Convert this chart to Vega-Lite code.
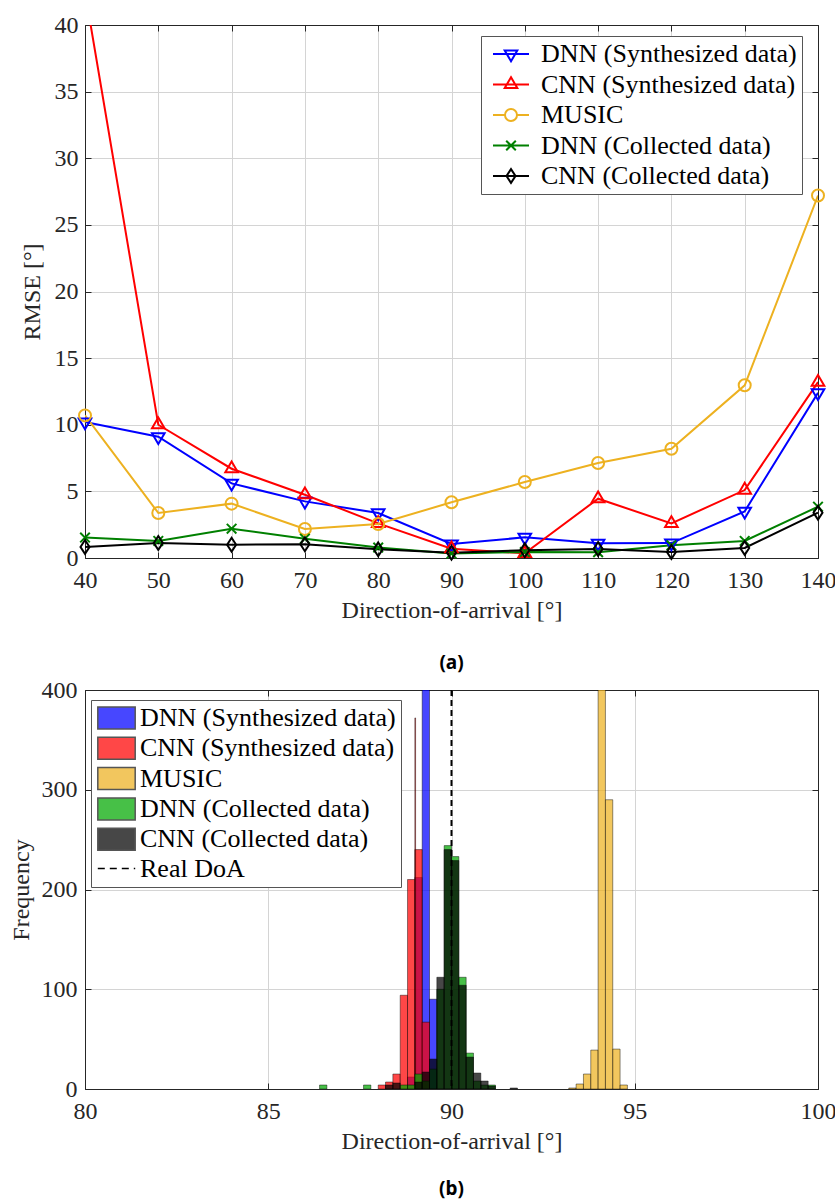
{
  "$schema": "https://vega.github.io/schema/vega-lite/v6.json",
  "padding": {"left": 8, "top": 12, "right": 0, "bottom": 0},
  "background": "#ffffff",
  "spacing": 3,
  "resolve": {
    "scale": {"color": "independent", "fill": "independent", "stroke": "independent", "shape": "independent", "strokeDash": "independent"},
    "legend": {"color": "independent", "fill": "independent", "stroke": "independent", "shape": "independent", "strokeDash": "independent"}
  },
  "datasets": {
    "rmse": [
      {"s": "DNN (Synthesized data)", "x": 40, "r": 10.2},
      {"s": "DNN (Synthesized data)", "x": 50, "r": 9.1},
      {"s": "DNN (Synthesized data)", "x": 60, "r": 5.6},
      {"s": "DNN (Synthesized data)", "x": 70, "r": 4.25},
      {"s": "DNN (Synthesized data)", "x": 80, "r": 3.38},
      {"s": "DNN (Synthesized data)", "x": 90, "r": 1.05},
      {"s": "DNN (Synthesized data)", "x": 100, "r": 1.55},
      {"s": "DNN (Synthesized data)", "x": 110, "r": 1.1},
      {"s": "DNN (Synthesized data)", "x": 120, "r": 1.12},
      {"s": "DNN (Synthesized data)", "x": 130, "r": 3.5},
      {"s": "DNN (Synthesized data)", "x": 140, "r": 12.4},
      {"s": "CNN (Synthesized data)", "x": 40, "r": 42.5},
      {"s": "CNN (Synthesized data)", "x": 50, "r": 10.0},
      {"s": "CNN (Synthesized data)", "x": 60, "r": 6.7},
      {"s": "CNN (Synthesized data)", "x": 70, "r": 4.75},
      {"s": "CNN (Synthesized data)", "x": 80, "r": 2.6},
      {"s": "CNN (Synthesized data)", "x": 90, "r": 0.7},
      {"s": "CNN (Synthesized data)", "x": 100, "r": 0.35},
      {"s": "CNN (Synthesized data)", "x": 110, "r": 4.45},
      {"s": "CNN (Synthesized data)", "x": 120, "r": 2.6},
      {"s": "CNN (Synthesized data)", "x": 130, "r": 5.1},
      {"s": "CNN (Synthesized data)", "x": 140, "r": 13.2},
      {"s": "MUSIC", "x": 40, "r": 10.7},
      {"s": "MUSIC", "x": 50, "r": 3.38},
      {"s": "MUSIC", "x": 60, "r": 4.08},
      {"s": "MUSIC", "x": 70, "r": 2.18},
      {"s": "MUSIC", "x": 80, "r": 2.55},
      {"s": "MUSIC", "x": 90, "r": 4.18},
      {"s": "MUSIC", "x": 100, "r": 5.7},
      {"s": "MUSIC", "x": 110, "r": 7.13},
      {"s": "MUSIC", "x": 120, "r": 8.2},
      {"s": "MUSIC", "x": 130, "r": 12.96},
      {"s": "MUSIC", "x": 140, "r": 27.2},
      {"s": "DNN (Collected data)", "x": 40, "r": 1.53},
      {"s": "DNN (Collected data)", "x": 50, "r": 1.28},
      {"s": "DNN (Collected data)", "x": 60, "r": 2.2},
      {"s": "DNN (Collected data)", "x": 70, "r": 1.45},
      {"s": "DNN (Collected data)", "x": 80, "r": 0.78},
      {"s": "DNN (Collected data)", "x": 90, "r": 0.33},
      {"s": "DNN (Collected data)", "x": 100, "r": 0.45},
      {"s": "DNN (Collected data)", "x": 110, "r": 0.43},
      {"s": "DNN (Collected data)", "x": 120, "r": 0.95},
      {"s": "DNN (Collected data)", "x": 130, "r": 1.28},
      {"s": "DNN (Collected data)", "x": 140, "r": 3.85},
      {"s": "CNN (Collected data)", "x": 40, "r": 0.83},
      {"s": "CNN (Collected data)", "x": 50, "r": 1.13},
      {"s": "CNN (Collected data)", "x": 60, "r": 1.0},
      {"s": "CNN (Collected data)", "x": 70, "r": 1.03},
      {"s": "CNN (Collected data)", "x": 80, "r": 0.65},
      {"s": "CNN (Collected data)", "x": 90, "r": 0.4},
      {"s": "CNN (Collected data)", "x": 100, "r": 0.58},
      {"s": "CNN (Collected data)", "x": 110, "r": 0.68},
      {"s": "CNN (Collected data)", "x": 120, "r": 0.45},
      {"s": "CNN (Collected data)", "x": 130, "r": 0.75},
      {"s": "CNN (Collected data)", "x": 140, "r": 3.4}
    ],
    "hist": [
      {"s": "DNN (Synthesized data)", "a": 88.8, "b": 89.0, "n": 12},
      {"s": "DNN (Synthesized data)", "a": 89.0, "b": 89.2, "n": 212},
      {"s": "DNN (Synthesized data)", "a": 89.2, "b": 89.4, "n": 640},
      {"s": "DNN (Synthesized data)", "a": 89.4, "b": 89.6, "n": 90},
      {"s": "CNN (Synthesized data)", "a": 88.0, "b": 88.2, "n": 4},
      {"s": "CNN (Synthesized data)", "a": 88.2, "b": 88.4, "n": 7},
      {"s": "CNN (Synthesized data)", "a": 88.4, "b": 88.6, "n": 15},
      {"s": "CNN (Synthesized data)", "a": 88.6, "b": 88.8, "n": 94},
      {"s": "CNN (Synthesized data)", "a": 88.8, "b": 89.0, "n": 210},
      {"s": "CNN (Synthesized data)", "a": 89.0, "b": 89.2, "n": 240},
      {"s": "CNN (Synthesized data)", "a": 89.2, "b": 89.4, "n": 67},
      {"s": "CNN (Synthesized data)", "a": 89.0, "b": 89.02, "n": 372},
      {"s": "MUSIC", "a": 93.2, "b": 93.4, "n": 1},
      {"s": "MUSIC", "a": 93.4, "b": 93.6, "n": 5},
      {"s": "MUSIC", "a": 93.6, "b": 93.8, "n": 15},
      {"s": "MUSIC", "a": 93.8, "b": 94.0, "n": 39},
      {"s": "MUSIC", "a": 94.0, "b": 94.2, "n": 610},
      {"s": "MUSIC", "a": 94.2, "b": 94.4, "n": 290},
      {"s": "MUSIC", "a": 94.4, "b": 94.6, "n": 40},
      {"s": "MUSIC", "a": 94.6, "b": 94.8, "n": 4},
      {"s": "DNN (Collected data)", "a": 86.4, "b": 86.6, "n": 4},
      {"s": "DNN (Collected data)", "a": 87.6, "b": 87.8, "n": 4},
      {"s": "DNN (Collected data)", "a": 88.6, "b": 88.8, "n": 4},
      {"s": "DNN (Collected data)", "a": 88.8, "b": 89.0, "n": 4},
      {"s": "DNN (Collected data)", "a": 89.0, "b": 89.2, "n": 15},
      {"s": "DNN (Collected data)", "a": 89.2, "b": 89.4, "n": 8},
      {"s": "DNN (Collected data)", "a": 89.4, "b": 89.6, "n": 20},
      {"s": "DNN (Collected data)", "a": 89.6, "b": 89.8, "n": 100},
      {"s": "DNN (Collected data)", "a": 89.8, "b": 90.0, "n": 244},
      {"s": "DNN (Collected data)", "a": 90.0, "b": 90.2, "n": 233},
      {"s": "DNN (Collected data)", "a": 90.2, "b": 90.4, "n": 112},
      {"s": "DNN (Collected data)", "a": 90.4, "b": 90.6, "n": 36},
      {"s": "DNN (Collected data)", "a": 90.6, "b": 90.8, "n": 8},
      {"s": "DNN (Collected data)", "a": 90.8, "b": 91.0, "n": 4},
      {"s": "DNN (Collected data)", "a": 91.0, "b": 91.2, "n": 4},
      {"s": "CNN (Collected data)", "a": 88.2, "b": 88.4, "n": 4},
      {"s": "CNN (Collected data)", "a": 88.4, "b": 88.6, "n": 6},
      {"s": "CNN (Collected data)", "a": 89.0, "b": 89.2, "n": 7},
      {"s": "CNN (Collected data)", "a": 89.2, "b": 89.4, "n": 17},
      {"s": "CNN (Collected data)", "a": 89.4, "b": 89.6, "n": 30},
      {"s": "CNN (Collected data)", "a": 89.6, "b": 89.8, "n": 112},
      {"s": "CNN (Collected data)", "a": 89.8, "b": 90.0, "n": 240},
      {"s": "CNN (Collected data)", "a": 90.0, "b": 90.2, "n": 229},
      {"s": "CNN (Collected data)", "a": 90.2, "b": 90.4, "n": 104},
      {"s": "CNN (Collected data)", "a": 90.4, "b": 90.6, "n": 32},
      {"s": "CNN (Collected data)", "a": 90.6, "b": 90.8, "n": 16},
      {"s": "CNN (Collected data)", "a": 90.8, "b": 91.0, "n": 8},
      {"s": "CNN (Collected data)", "a": 91.0, "b": 91.2, "n": 3},
      {"s": "CNN (Collected data)", "a": 91.6, "b": 91.8, "n": 1},
      {"s": "Real DoA", "a": 90}
    ]
  },
  "vconcat": [
    {
      "width": 733,
      "height": 533,
      "data": {"name": "rmse"},
      "title": {"text": "(a)", "orient": "bottom", "offset": 32, "frame": "group"},
      "layer": [
        {
          "mark": {"type": "line", "strokeWidth": 2, "clip": true},
          "encoding": {
            "x": {"field": "x", "type": "quantitative", "scale": {"domain": [40, 140], "nice": false},
              "axis": {"orient": "bottom", "values": [40, 50, 60, 70, 80, 90, 100, 110, 120, 130, 140], "title": "Direction-of-arrival [°]", "labelFont": "Liberation Serif", "labelPadding": 16, "titlePadding": 6, "grid": true}},
            "y": {"field": "r", "type": "quantitative", "scale": {"domain": [0, 40], "nice": false},
              "axis": {"orient": "left", "values": [0, 5, 10, 15, 20, 25, 30, 35, 40], "title": "RMSE [°]", "labelFont": "Liberation Serif", "labelPadding": 13, "titlePadding": 10, "grid": true}},
            "color": {"field": "s", "type": "nominal",
              "scale": {"domain": ["DNN (Synthesized data)", "CNN (Synthesized data)", "MUSIC", "DNN (Collected data)", "CNN (Collected data)"], "range": ["#0000ff", "#ff0000", "#EDB120", "#008000", "#000000"]},
              "legend": null}
          }
        },
        {
          "transform": [{"filter": "datum.r <= 40"}],
          "mark": {"type": "point", "filled": false, "strokeWidth": 2, "size": 144, "opacity": 1},
          "encoding": {
            "x": {"field": "x", "type": "quantitative", "axis": {"orient": "top", "values": [40, 50, 60, 70, 80, 90, 100, 110, 120, 130, 140], "labels": false, "title": null, "grid": false}},
            "y": {"field": "r", "type": "quantitative", "axis": {"orient": "right", "values": [0, 5, 10, 15, 20, 25, 30, 35, 40], "labels": false, "title": null, "grid": false}},
            "color": {"field": "s", "type": "nominal", "legend": null},
            "shape": {"field": "s", "type": "nominal",
              "scale": {"domain": ["DNN (Synthesized data)", "CNN (Synthesized data)", "MUSIC", "DNN (Collected data)", "CNN (Collected data)"], "range": ["M-1.05,-0.6L1.05,-0.6L0,1.2Z", "M-1.05,0.6L1.05,0.6L0,-1.2Z", "M-1,0A1,1,0,1,0,1,0A1,1,0,1,0,-1,0Z", "M-0.8,-0.8L0.8,0.8M-0.8,0.8L0.8,-0.8", "M0,-1.15L0.75,0L0,1.15L-0.75,0Z"]},
              "legend": null}
          }
        },
        {
          "transform": [{"filter": "false"}],
          "mark": {"type": "point", "filled": false, "strokeWidth": 2, "opacity": 1},
          "encoding": {
            "stroke": {"field": "s", "type": "nominal",
              "scale": {"domain": ["DNN (Synthesized data)", "CNN (Synthesized data)", "MUSIC", "DNN (Collected data)", "CNN (Collected data)"], "range": ["#0000ff", "#ff0000", "#EDB120", "#008000", "#000000"]},
              "legend": {"orient": "none", "legendX": 396, "legendY": 11, "title": null, "symbolSize": 144, "symbolStrokeWidth": 2, "symbolOffset": 12, "labelOffset": 17, "rowPadding": 4.5, "padding": 5, "strokeColor": "#555555", "fillColor": "#ffffff", "labelFont": "Liberation Serif", "labelFontSize": 26}},
            "shape": {"field": "s", "type": "nominal",
              "scale": {"domain": ["DNN (Synthesized data)", "CNN (Synthesized data)", "MUSIC", "DNN (Collected data)", "CNN (Collected data)"], "range": ["M-3,0L3,0M-1.05,-0.6L1.05,-0.6L0,1.2Z", "M-3,0L3,0M-1.05,0.6L1.05,0.6L0,-1.2Z", "M-3,0L-1,0M1,0L3,0M-1,0A1,1,0,1,0,1,0A1,1,0,1,0,-1,0Z", "M-3,0L3,0M-0.8,-0.8L0.8,0.8M-0.8,0.8L0.8,-0.8", "M-3,0L3,0M0,-1.15L0.75,0L0,1.15L-0.75,0Z"]},
              "legend": {"orient": "none", "legendX": 396, "legendY": 11, "title": null, "symbolSize": 144, "symbolStrokeWidth": 2, "symbolOffset": 12, "labelOffset": 17, "rowPadding": 4.5, "padding": 5, "strokeColor": "#555555", "fillColor": "#ffffff", "labelFont": "Liberation Serif", "labelFontSize": 26}}
          }
        }
      ],
      "resolve": {"axis": {"x": "independent", "y": "independent"}, "scale": {"shape": "independent", "stroke": "independent"}}
    },
    {
      "width": 733,
      "height": 399,
      "data": {"name": "hist"},
      "title": {"text": "(b)", "orient": "bottom", "offset": 27, "frame": "group"},
      "layer": [
        {
          "transform": [{"filter": "datum.s !== 'Real DoA'"}],
          "mark": {"type": "bar", "fillOpacity": 0.72, "stroke": "#000000", "strokeOpacity": 0.55, "strokeWidth": 0.8, "clip": true},
          "encoding": {
            "x": {"field": "a", "type": "quantitative", "scale": {"domain": [80, 100], "nice": false},
              "axis": {"orient": "bottom", "values": [80, 85, 90, 95, 100], "title": "Direction-of-arrival [°]", "labelFont": "Liberation Serif", "labelPadding": 16, "titlePadding": 6, "grid": true}},
            "x2": {"field": "b"},
            "y": {"field": "n", "type": "quantitative", "scale": {"domain": [0, 400], "nice": false},
              "axis": {"orient": "left", "values": [0, 100, 200, 300, 400], "title": "Frequency", "labelFont": "Liberation Serif", "labelPadding": 14, "titlePadding": 8, "grid": true}},
            "y2": {"datum": 0},
            "color": {"field": "s", "type": "nominal",
              "scale": {"domain": ["Real DoA", "DNN (Synthesized data)", "CNN (Synthesized data)", "MUSIC", "DNN (Collected data)", "CNN (Collected data)"], "range": ["#000000", "#0000ff", "#ff0000", "#EDB120", "#00a800", "#000000"]},
              "legend": null}
          }
        },
        {
          "transform": [{"filter": "datum.s === 'Real DoA'"}],
          "mark": {"type": "rule", "strokeDash": [6, 4], "strokeWidth": 2},
          "encoding": {
            "x": {"field": "a", "type": "quantitative", "axis": {"orient": "top", "values": [80, 85, 90, 95, 100], "labels": false, "title": null, "grid": false}},
            "color": {"field": "s", "type": "nominal",
              "scale": {"domain": ["Real DoA", "DNN (Synthesized data)", "CNN (Synthesized data)", "MUSIC", "DNN (Collected data)", "CNN (Collected data)"], "range": ["#000000", "#0000ff", "#ff0000", "#EDB120", "#00a800", "#000000"]},
              "legend": null}
          }
        },
        {
          "transform": [{"filter": "datum.s === 'Real DoA'"}],
          "mark": {"type": "point", "opacity": 0},
          "encoding": {
            "x": {"field": "a", "type": "quantitative", "axis": null},
            "y": {"datum": 0, "type": "quantitative", "axis": {"orient": "right", "values": [0, 100, 200, 300, 400], "labels": false, "title": null, "grid": false}}
          }
        },
        {
          "transform": [{"filter": "false"}],
          "mark": {"type": "point", "filled": true, "opacity": 1},
          "encoding": {
            "fill": {"field": "s", "type": "nominal",
              "scale": {"domain": ["DNN (Synthesized data)", "CNN (Synthesized data)", "MUSIC", "DNN (Collected data)", "CNN (Collected data)", "Real DoA"], "range": ["#4747ff", "#ff4747", "#f2c65e", "#47c047", "#474747", "transparent"]},
              "legend": {"orient": "none", "legendX": 6, "legendY": 10, "title": null, "symbolSize": 484, "symbolStrokeWidth": 1.5, "symbolOffset": 7.5, "labelOffset": 10.5, "rowPadding": 2.3, "padding": 5, "strokeColor": "#555555", "fillColor": "#ffffff", "labelFont": "Liberation Serif", "labelFontSize": 26}},
            "stroke": {"field": "s", "type": "nominal",
              "scale": {"domain": ["DNN (Synthesized data)", "CNN (Synthesized data)", "MUSIC", "DNN (Collected data)", "CNN (Collected data)", "Real DoA"], "range": ["#555555", "#555555", "#555555", "#555555", "#555555", "#000000"]},
              "legend": {"orient": "none", "legendX": 6, "legendY": 10, "title": null, "symbolSize": 484, "symbolStrokeWidth": 1.5, "symbolOffset": 7.5, "labelOffset": 10.5, "rowPadding": 2.3, "padding": 5, "strokeColor": "#555555", "fillColor": "#ffffff", "labelFont": "Liberation Serif", "labelFontSize": 26}},
            "shape": {"field": "s", "type": "nominal",
              "scale": {"domain": ["DNN (Synthesized data)", "CNN (Synthesized data)", "MUSIC", "DNN (Collected data)", "CNN (Collected data)", "Real DoA"], "range": ["M-1.7,-1L1.7,-1L1.7,1L-1.7,1Z", "M-1.7,-1L1.7,-1L1.7,1L-1.7,1Z", "M-1.7,-1L1.7,-1L1.7,1L-1.7,1Z", "M-1.7,-1L1.7,-1L1.7,1L-1.7,1Z", "M-1.7,-1L1.7,-1L1.7,1L-1.7,1Z", "M-1.7,0L1.7,0"]},
              "legend": {"orient": "none", "legendX": 6, "legendY": 10, "title": null, "symbolSize": 484, "symbolStrokeWidth": 1.5, "symbolOffset": 7.5, "labelOffset": 10.5, "rowPadding": 2.3, "padding": 5, "strokeColor": "#555555", "fillColor": "#ffffff", "labelFont": "Liberation Serif", "labelFontSize": 26}},
            "strokeDash": {"field": "s", "type": "nominal",
              "scale": {"domain": ["DNN (Synthesized data)", "CNN (Synthesized data)", "MUSIC", "DNN (Collected data)", "CNN (Collected data)", "Real DoA"], "range": [[1, 0], [1, 0], [1, 0], [1, 0], [1, 0], [7, 5]]},
              "legend": {"orient": "none", "legendX": 6, "legendY": 10, "title": null, "symbolSize": 484, "symbolStrokeWidth": 1.5, "symbolOffset": 7.5, "labelOffset": 10.5, "rowPadding": 2.3, "padding": 5, "strokeColor": "#555555", "fillColor": "#ffffff", "labelFont": "Liberation Serif", "labelFontSize": 26}}
          }
        }
      ],
      "resolve": {"axis": {"x": "independent", "y": "independent"}}
    }
  ],
  "config": {
    "font": "Liberation Serif",
    "view": {"stroke": "#262626", "strokeWidth": 1},
    "axis": {"labelFont": "Liberation Serif", "labelFontSize": 24, "labelColor": "#262626", "titleFont": "Liberation Serif", "titleFontSize": 24, "titleFontWeight": "normal", "titleColor": "#262626", "gridColor": "#d4d4d4", "gridWidth": 1, "domainColor": "#262626", "tickColor": "#262626", "tickSize": -6, "labelFlush": false, "labelOverlap": false},
    "legend": {"labelFont": "Liberation Serif", "labelFontSize": 26, "labelColor": "#000000", "labelLimit": 400},
    "title": {"font": "Noto Sans", "fontSize": 19, "fontWeight": "bold", "color": "#000000"}
  }
}
